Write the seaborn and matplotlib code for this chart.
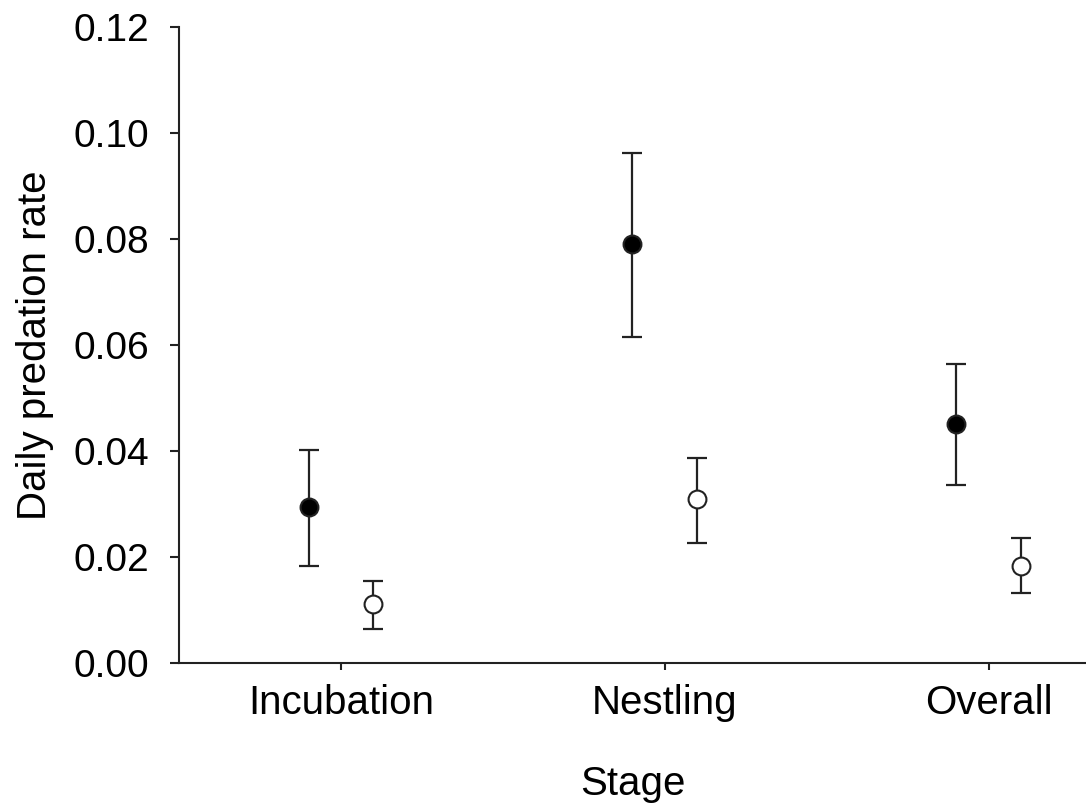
import matplotlib
matplotlib.use("Agg")
import matplotlib.pyplot as plt
import seaborn as sns
import pandas as pd
import numpy as np
from matplotlib.ticker import FormatStrFormatter

stages = ["Incubation", "Nestling", "Overall"]
groups = ["A", "B"]  # filled, open
rate_A = [0.0294, 0.0790, 0.0451]
low_A = [0.0183, 0.0615, 0.0337]
high_A = [0.0402, 0.0962, 0.0564]
rate_B = [0.0112, 0.0309, 0.0184]
low_B = [0.0065, 0.0227, 0.0133]
high_B = [0.0156, 0.0388, 0.0236]

sns.set_theme(style="ticks")
plt.rcParams['font.family'] = ['Liberation Sans', 'DejaVu Sans']

fig = plt.figure(figsize=(10.86, 8.09), dpi=100)
ax = fig.add_axes([0.1648, 0.180, 0.835, 0.787])

offsets = {"A": -0.10, "B": 0.10}
rows = []
for g, r, lo, hi in [("A", rate_A, low_A, high_A), ("B", rate_B, low_B, high_B)]:
    for i, s in enumerate(stages):
        rows.append(dict(stage=s, group=g, pos=i + offsets[g], rate=r[i], low=lo[i], high=hi[i]))
df = pd.DataFrame(rows)

ec = "#222222"
for g, face in [("A", "black"), ("B", "white")]:
    d = df[df.group == g]
    ax.errorbar(d.pos, d.rate, yerr=[d.rate - d.low, d.high - d.rate], fmt="none",
                ecolor=ec, elinewidth=1.6, capsize=7.5, capthick=1.6, zorder=2)
    sns.scatterplot(data=d, x="pos", y="rate", ax=ax, s=165, color=face,
                    edgecolor=ec, linewidth=1.5, zorder=3, legend=False)

ax.set_xlim(-0.5, 2.3)
ax.set_ylim(0, 0.12)
ax.set_xticks(range(len(stages)))
ax.set_xticklabels(stages)
ax.set_yticks(np.arange(0, 0.121, 0.02))
ax.yaxis.set_major_formatter(FormatStrFormatter("%.2f"))
for sp in ["top", "right"]:
    ax.spines[sp].set_visible(False)
for sp in ["left", "bottom"]:
    ax.spines[sp].set_color(ec)
    ax.spines[sp].set_linewidth(1.5)
ax.tick_params(axis="y", length=6.5, width=1.5, color=ec, labelsize=28, pad=15, labelcolor="black")
ax.tick_params(axis="x", length=5, width=1.5, color=ec, labelsize=29, pad=10, labelcolor="black")
ax.set_xlabel("Stage", fontsize=29, labelpad=31, color="black")
ax.set_ylabel("Daily predation rate", fontsize=29, labelpad=14, color="black")

fig.savefig("out.png", dpi=100)
